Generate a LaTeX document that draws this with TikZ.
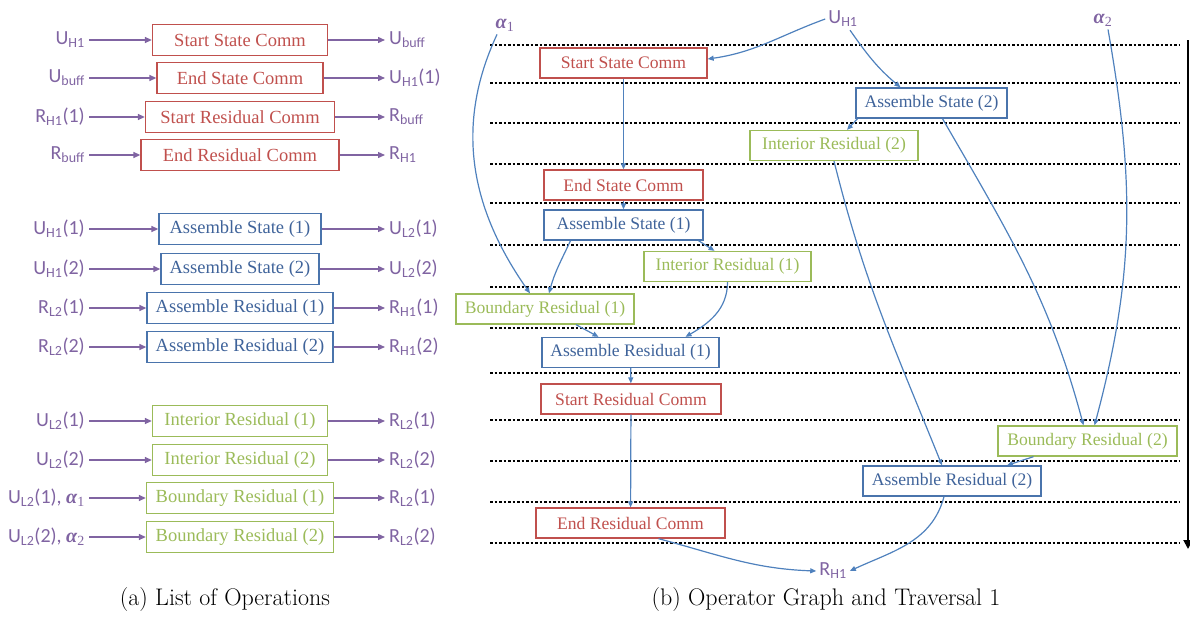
\documentclass[tikz,border=0pt]{standalone}
\usepackage{fontspec}
\newfontfamily\boxfont{Liberation Serif}
\newfontfamily\lblfont{Carlito}
\usetikzlibrary{arrows.meta}
\definecolor{c-red}{HTML}{C0504D}
\definecolor{c-blue}{HTML}{4A74AC}
\definecolor{c-bluetext}{HTML}{3F639A}
\definecolor{c-green}{HTML}{9BBB59}
\definecolor{c-purple}{HTML}{8064A2}
\definecolor{c-arrow}{HTML}{4F81BD}
\newcommand{\sbs}[1]{\textsubscript{#1}}
\newcommand{\alp}[1]{{\boxfont\bfseries\itshape α}\textsubscript{\boxfont #1}}

\begin{document}
\begin{tikzpicture}[x=1pt,y=-1pt,
  op/.style={draw,line width=1.3pt,minimum height=31pt,inner sep=0pt,font=\boxfont\fontsize{18.5}{20}\selectfont},
  rop/.style={op,minimum height=30pt,font=\boxfont\fontsize{17.6}{20}\selectfont},
  redop/.style={draw=c-red,text=c-red},
  blueop/.style={draw=c-blue,text=c-bluetext},
  greenop/.style={draw=c-green,text=c-green},
  lbl/.style={text=c-purple,inner sep=4pt,font=\lblfont\fontsize{20}{22}\selectfont},
  parrow/.style={draw=c-purple,line width=1.3pt,-{Triangle[length=7pt,width=6pt]}},
  barrow/.style={draw=c-arrow,line width=1.2pt,-{Triangle[length=6pt,width=5pt]}},
  sep/.style={line width=1.7pt,dash pattern=on 2.5pt off 2pt}]
  \useasboundingbox (0,0) rectangle (1190,616);

  % (a) lista de operaciones
  \node[op,redop,minimum width=175pt] (lssc) at (240,40) {Start State Comm};
  \node[lbl,anchor=east] (lssc-i) at (89,40) {U\sbs{H1}};
  \node[lbl,anchor=west] (lssc-o) at (385,40) {U\sbs{buff}};
  \node[op,redop,minimum width=166pt] (lesc) at (240,78) {End State Comm};
  \node[lbl,anchor=east] (lesc-i) at (89,78) {U\sbs{buff}};
  \node[lbl,anchor=west] (lesc-o) at (385,78) {U\sbs{H1}(1)};
  \node[op,redop,minimum width=189pt] (lsrc) at (240,117) {Start Residual Comm};
  \node[lbl,anchor=east] (lsrc-i) at (89,117) {R\sbs{H1}(1)};
  \node[lbl,anchor=west] (lsrc-o) at (385,117) {R\sbs{buff}};
  \node[op,redop,minimum width=198pt] (lerc) at (240,155) {End Residual Comm};
  \node[lbl,anchor=east] (lerc-i) at (89,155) {R\sbs{buff}};
  \node[lbl,anchor=west] (lerc-o) at (385,155) {R\sbs{H1}};

  \node[op,blueop,minimum width=162pt] (las1) at (240,229) {Assemble State (1)};
  \node[lbl,anchor=east] (las1-i) at (89,229) {U\sbs{H1}(1)};
  \node[lbl,anchor=west] (las1-o) at (385,229) {U\sbs{L2}(1)};
  \node[op,blueop,minimum width=158pt] (las2) at (240,269) {Assemble State (2)};
  \node[lbl,anchor=east] (las2-i) at (89,269) {U\sbs{H1}(2)};
  \node[lbl,anchor=west] (las2-o) at (385,269) {U\sbs{L2}(2)};
  \node[op,blueop,minimum width=186pt] (lar1) at (240,308) {Assemble Residual (1)};
  \node[lbl,anchor=east] (lar1-i) at (89,308) {R\sbs{L2}(1)};
  \node[lbl,anchor=west] (lar1-o) at (385,308) {R\sbs{H1}(1)};
  \node[op,blueop,minimum width=186pt] (lar2) at (240,347) {Assemble Residual (2)};
  \node[lbl,anchor=east] (lar2-i) at (89,347) {R\sbs{L2}(2)};
  \node[lbl,anchor=west] (lar2-o) at (385,347) {R\sbs{H1}(2)};

  \node[op,greenop,minimum width=175pt] (lir1) at (240,421) {Interior Residual (1)};
  \node[lbl,anchor=east] (lir1-i) at (89,421) {U\sbs{L2}(1)};
  \node[lbl,anchor=west] (lir1-o) at (385,421) {R\sbs{L2}(1)};
  \node[op,greenop,minimum width=175pt] (lir2) at (240,460) {Interior Residual (2)};
  \node[lbl,anchor=east] (lir2-i) at (89,460) {U\sbs{L2}(2)};
  \node[lbl,anchor=west] (lir2-o) at (385,460) {R\sbs{L2}(2)};
  \node[op,greenop,minimum width=187pt] (lbr1) at (240,498) {Boundary Residual (1)};
  \node[lbl,anchor=east] (lbr1-i) at (89,498) {U\sbs{L2}(1), \alp{1}};
  \node[lbl,anchor=west] (lbr1-o) at (385,498) {R\sbs{L2}(1)};
  \node[op,greenop,minimum width=187pt] (lbr2) at (240,537) {Boundary Residual (2)};
  \node[lbl,anchor=east] (lbr2-i) at (89,537) {U\sbs{L2}(2), \alp{2}};
  \node[lbl,anchor=west] (lbr2-o) at (385,537) {R\sbs{L2}(2)};

  \foreach \n in {lssc,lesc,lsrc,lerc,las1,las2,lar1,lar2,lir1,lir2,lbr1,lbr2}
    {\draw[parrow] (\n-i) -- (\n); \draw[parrow] (\n) -- (\n-o);}

  % (b) grafo de operadores: separadores
  \foreach \y in {45,83,123,164,203,245,287,328,373,420,461,502,543}
    \draw[sep] (490,\y) -- (1180,\y);
  \coordinate (t0) at (1188,40);
  \coordinate (t1) at (1188,549);
  \draw[line width=2pt,-{Triangle[length=9pt,width=9pt]}] (t0) -- (t1);

  % entradas y salida
  \node[lbl,inner sep=3pt] (uh1) at (843,19) {U\sbs{H1}};
  \node[lbl,inner sep=3pt] (a1) at (505,25) {\alp{1}};
  \node[lbl,inner sep=3pt] (a2) at (1103,20) {\alp{2}};
  \node[lbl,inner sep=3pt] (rh1) at (833,571) {R\sbs{H1}};

  % operaciones
  \node[rop,redop,minimum width=167pt] (ssc) at (623.5,63) {Start State Comm};
  \node[rop,redop,minimum width=159pt] (esc) at (623.5,185) {End State Comm};
  \node[rop,blueop,minimum width=159pt] (as1) at (623.5,225) {Assemble State (1)};
  \node[rop,greenop,minimum width=167pt] (ir1) at (727.5,266.5) {Interior Residual (1)};
  \node[rop,greenop,minimum width=178pt] (br1) at (545,309) {Boundary Residual (1)};
  \node[rop,blueop,minimum width=177pt] (ar1) at (630.5,352.5) {Assemble Residual (1)};
  \node[rop,redop,minimum width=180pt] (src) at (631,399) {Start Residual Comm};
  \node[rop,redop,minimum width=189pt] (erc) at (630.5,523) {End Residual Comm};
  \node[rop,blueop,minimum width=151pt] (as2) at (931.5,103) {Assemble State (2)};
  \node[rop,greenop,minimum width=168pt] (ir2) at (834,145.5) {Interior Residual (2)};
  \node[rop,greenop,minimum width=179pt] (br2) at (1087.5,441) {Boundary Residual (2)};
  \node[rop,blueop,minimum width=178pt] (ar2) at (952,481) {Assemble Residual (2)};

  % dependencias
  \draw[barrow] (uh1.west) to[out=200,in=8] ([yshift=4pt]ssc.east);
  \draw[barrow] ([xshift=7pt]uh1.south) to[out=-55,in=140] ([xshift=-31pt]as2.north);
  \draw[barrow] (ssc) -- (esc);
  \draw[barrow] (esc) -- (as1);
  \draw[barrow] ([xshift=75pt]as1.south) -- ([xshift=-13pt]ir1.north);
  \draw[barrow] ([xshift=-53pt]as1.south) to[out=-115,in=75] ([xshift=4pt]br1.north);
  \draw[barrow] ([xshift=-8pt]a1.south) to[out=-115,in=125] ([xshift=-15pt]br1.north);
  \draw[barrow] ([xshift=31pt]br1.south) -- ([xshift=-32pt]ar1.north);
  \draw[barrow] (ir1.south) to[out=-90,in=30] ([xshift=55pt]ar1.north);
  \draw[barrow] (ar1) -- (src);
  \draw[barrow] (src) -- (erc);
  \draw[barrow] ([xshift=28pt]erc.south) to[out=-15,in=178] (rh1.west);
  \draw[barrow] ([xshift=-74pt]as2.south) -- ([xshift=13pt]ir2.north);
  \draw[barrow] ([xshift=11pt]as2.south) to[out=-60,in=105] ([xshift=-4pt]br2.north);
  \draw[barrow] ([xshift=5pt]a2.south) to[out=-80,in=75] ([xshift=7pt]br2.north);
  \draw[barrow] (ir2.south) to[out=-76,in=112] ([xshift=-10pt]ar2.north);
  \draw[barrow] ([xshift=-54pt]br2.south) -- ([xshift=55pt]ar2.north);
  \draw[barrow] ([xshift=-8pt]ar2.south) to[out=-105,in=25] (rh1.east);

  % leyendas
  \node[font=\fontsize{24}{26}\selectfont] (cap-a) at (225,600) {(a) List of Operations};
  \node[font=\fontsize{24}{26}\selectfont] (cap-b) at (826,600) {(b) Operator Graph and Traversal 1};
\end{tikzpicture}
\end{document}
